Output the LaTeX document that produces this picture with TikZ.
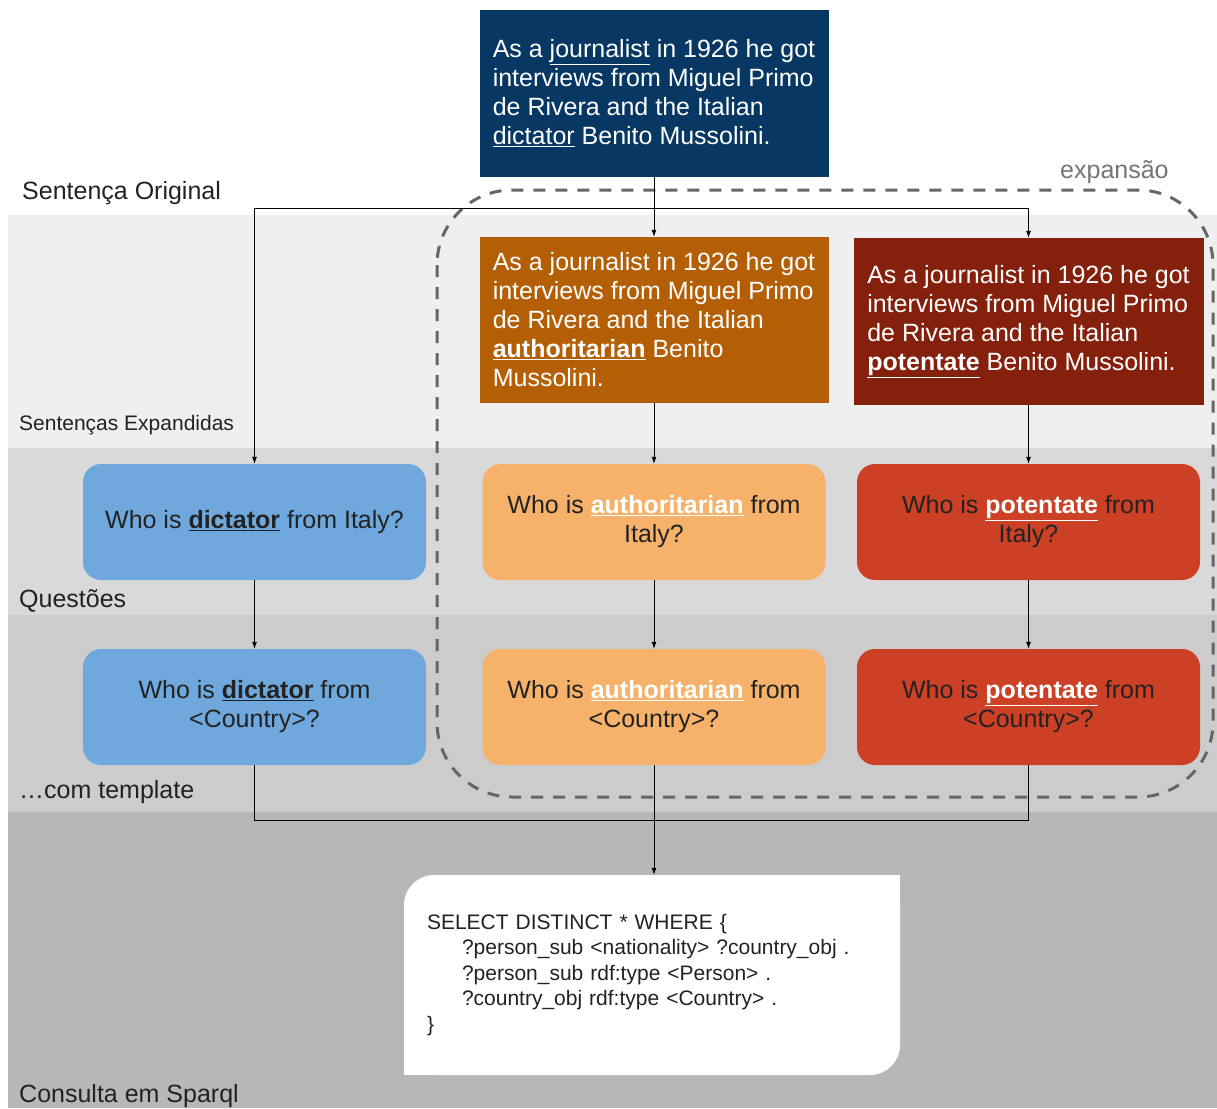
\documentclass[tikz,border=0pt]{standalone}
\usepackage{fontspec}
\setmainfont{Liberation Sans}
\usepackage{tikz}
\usetikzlibrary{arrows.meta}

\definecolor{origblue}{HTML}{073763}
\definecolor{expbrown}{HTML}{B45F06}
\definecolor{expred}{HTML}{85200C}
\definecolor{qblue}{HTML}{6FA8DC}
\definecolor{qorange}{HTML}{F6B26B}
\definecolor{qred}{HTML}{CC4125}
\definecolor{bandone}{HTML}{EFEFEF}
\definecolor{bandtwo}{HTML}{D9D9D9}
\definecolor{bandthree}{HTML}{CCCCCC}
\definecolor{bandfour}{HTML}{B7B7B7}
\definecolor{dashgray}{HTML}{666666}
\definecolor{inkgray}{HTML}{222222}

\tikzset{
  sent/.style={text=white, align=left, inner sep=0pt, minimum width=349pt,
    minimum height=167pt, font=\fontsize{25}{29}\selectfont},
  quest/.style={rounded corners=18pt, minimum width=343pt, minimum height=116pt,
    align=center, text=inkgray, font=\fontsize{25}{29}\selectfont},
  lbl/.style={anchor=base west, inner sep=0pt, text=inkgray, font=\fontsize{25}{30}\selectfont},
  conn/.style={-{Latex[length=7pt,width=5pt]}, line width=0.8pt},
  link/.style={line width=0.8pt},
}

\begin{document}
\begin{tikzpicture}[x=1pt,y=-1pt]
  \useasboundingbox (0,0) rectangle (1217,1108);
  % faixas
  \fill[bandone] (8,215) rectangle (1217,448);
  \fill[bandtwo] (8,448) rectangle (1217,615);
  \fill[bandthree] (8,615) rectangle (1217,812);
  \fill[bandfour] (8,812) rectangle (1217,1108);

  \node[lbl] (lorig) at (22,199) {Sentença Original};
  \node[lbl, font=\fontsize{21}{25}\selectfont] (lexp) at (19,430) {Sentenças Expandidas};
  \node[lbl] (lquest) at (19,607) {Questões};
  \node[lbl] (ltempl) at (19,798) {\dots com template};
  \node[lbl] (lsparql) at (19,1102) {Consulta em Sparql};

  % expansao
  \draw[dashgray, line width=3pt, dash pattern=on 12pt off 10pt, rounded corners=75pt]
    (437,190) rectangle (1213,797);
  \node[lbl, text=dashgray!90] (lexpansao) at (1060,178) {expansão};

  \node[sent, fill=origblue] (orig) at (654,93.5)
    {As a \underline{journalist} in 1926 he got\\ interviews from Miguel Primo\\
     de Rivera and the Italian\\ \underline{dictator} Benito Mussolini.};
  \node[sent, fill=expbrown, minimum height=166pt] (exp1) at (654,320)
    {As a journalist in 1926 he got\\ interviews from Miguel Primo\\
     de Rivera and the Italian\\ \underline{\textbf{authoritarian}} Benito\\ Mussolini.};
  \node[sent, fill=expred, minimum width=350pt] (exp2) at (1028.5,321.5)
    {As a journalist in 1926 he got\\ interviews from Miguel Primo\\
     de Rivera and the Italian\\ \underline{\textbf{potentate}} Benito Mussolini.};

  \node[quest, fill=qblue] (q1) at (254.5,522) {Who is \underline{\textbf{dictator}} from Italy?};
  \node[quest, fill=qorange] (q2) at (654,522)
    {Who is \textcolor{white}{\underline{\textbf{authoritarian}}} from\\ Italy?};
  \node[quest, fill=qred] (q3) at (1028.5,522)
    {Who is \textcolor{white}{\underline{\textbf{potentate}}} from\\ Italy?};

  \node[quest, fill=qblue] (t1) at (254.5,707) {Who is \underline{\textbf{dictator}} from\\ <Country>?};
  \node[quest, fill=qorange] (t2) at (654,707)
    {Who is \textcolor{white}{\underline{\textbf{authoritarian}}} from\\ <Country>?};
  \node[quest, fill=qred] (t3) at (1028.5,707)
    {Who is \textcolor{white}{\underline{\textbf{potentate}}} from\\ <Country>?};

  % consulta
  \fill[white, rounded corners=30pt] (404,875) rectangle (900,1075);
  \fill[white] (860,875) rectangle (900,915);
  \fill[white] (404,1035) rectangle (444,1075);
  \node[text=inkgray, text width=450pt, align=left, inner xsep=23pt, minimum height=200pt,
    font=\fontsize{21}{25.5}\selectfont] (sparql) at (652,975)
    {SELECT DISTINCT * WHERE \{\\
     \hspace*{35pt}?person\_sub <nationality> ?country\_obj .\\
     \hspace*{35pt}?person\_sub rdf:type <Person> .\\
     \hspace*{35pt}?country\_obj rdf:type <Country> .\\
     \}};

  % conexoes
  \coordinate (split) at (654,208);
  \coordinate (merge) at (654,820);
  \draw[link] (orig) -- (split);
  \draw[conn] (split) -- (exp1);
  \draw[conn] (split) -| (q1);
  \draw[conn] (split) -| (exp2);
  \draw[conn] (exp1) -- (q2);
  \draw[conn] (exp2) -- (q3);
  \draw[conn] (q1) -- (t1);
  \draw[conn] (q2) -- (t2);
  \draw[conn] (q3) -- (t3);
  \draw[link] (t1) |- (merge);
  \draw[link] (t2) -- (merge);
  \draw[link] (t3) |- (merge);
  \draw[conn] (merge) -- (merge |- sparql.north);
\end{tikzpicture}
\end{document}
